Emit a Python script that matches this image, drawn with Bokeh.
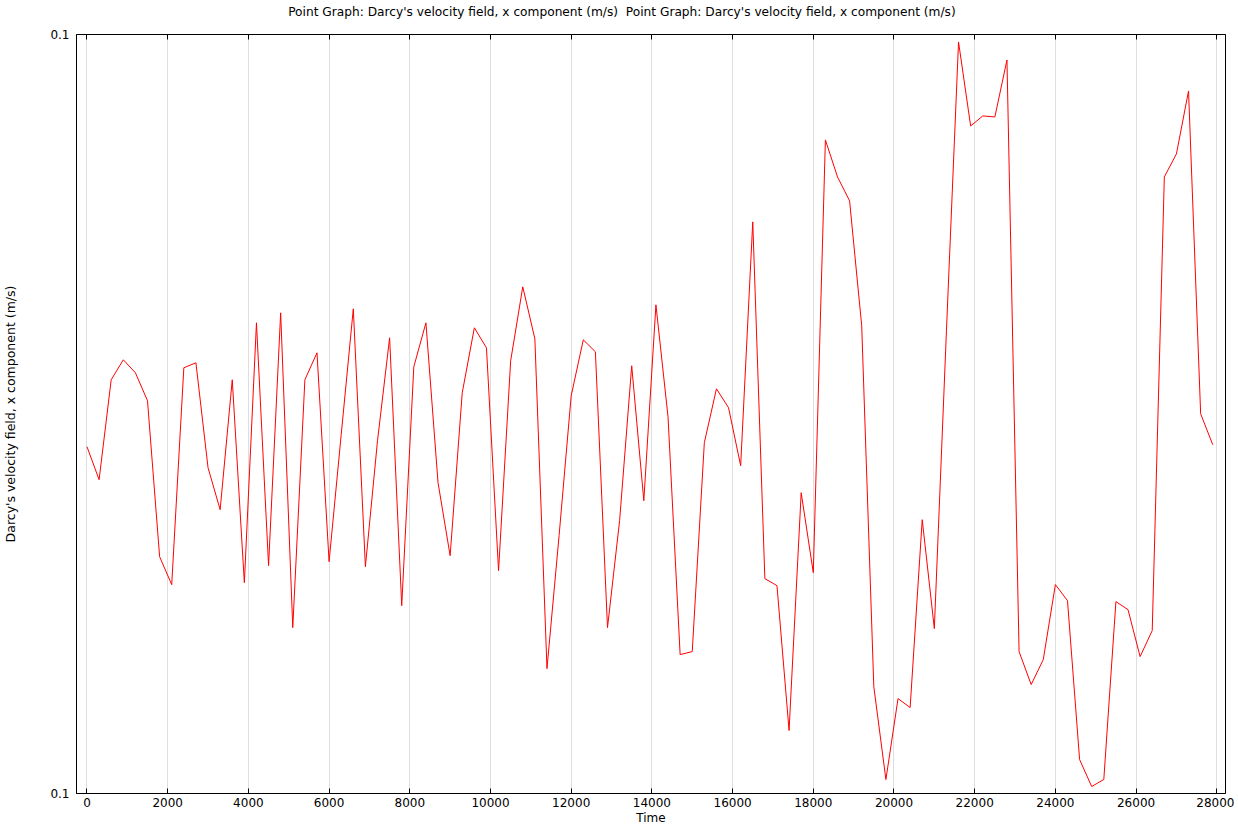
from bokeh.plotting import figure
from bokeh.models import Range1d, LinearAxis, FixedTicker, PrintfTickFormatter
from bokeh.embed import file_html
from bokeh.resources import INLINE

time_s = [0, 300, 600, 900, 1200, 1500, 1800, 2100, 2400, 2700, 3000, 3300, 3600, 3900,
          4200, 4500, 4800, 5100, 5400, 5700, 6000, 6300, 6600, 6900, 7200, 7500, 7800,
          8100, 8400, 8700, 9000, 9300, 9600, 9900, 10200, 10500, 10800, 11100, 11400,
          11700, 12000, 12300, 12600, 12900, 13200, 13500, 13800, 14100, 14400, 14700,
          15000, 15300, 15600, 15900, 16200, 16500, 16800, 17100, 17400, 17700, 18000,
          18300, 18600, 18900, 19200, 19500, 19800, 20100, 20400, 20700, 21000, 21300,
          21600, 21900, 22200, 22500, 22800, 23100, 23400, 23700, 24000, 24300, 24600,
          24900, 25200, 25500, 25800, 26100, 26400, 26700, 27000, 27300, 27600, 27900]

u_x = [0.09999947, 0.09999914, 0.10000014, 0.10000034, 0.10000021, 0.09999993,
       0.09999837, 0.09999809, 0.10000026, 0.10000031, 0.09999926, 0.09999884,
       0.10000014, 0.09999811, 0.10000071, 0.09999828, 0.10000081, 0.09999766,
       0.10000014, 0.10000041, 0.09999832, 0.09999959, 0.10000085, 0.09999827,
       0.09999953, 0.10000056, 0.09999788, 0.10000027, 0.10000071, 0.09999911,
       0.09999838, 0.10000001, 0.10000066, 0.10000046, 0.09999823, 0.10000033,
       0.10000107, 0.10000055, 0.09999725, 0.09999858, 0.09999998, 0.10000054,
       0.10000042, 0.09999766, 0.09999873, 0.10000028, 0.09999893, 0.10000089,
       0.09999977, 0.09999739, 0.09999742, 0.09999951, 0.10000005, 0.09999986,
       0.09999928, 0.10000172, 0.09999815, 0.09999808, 0.09999663, 0.09999901,
       0.09999821, 0.10000254, 0.10000217, 0.10000193, 0.10000068, 0.09999707,
       0.09999614, 0.09999695, 0.09999686, 0.09999874, 0.09999765, 0.10000063,
       0.10000352, 0.10000268, 0.10000278, 0.10000277, 0.10000334, 0.09999742,
       0.09999709, 0.09999734, 0.09999809, 0.09999793, 0.09999634, 0.09999607,
       0.09999614, 0.09999792, 0.09999784, 0.09999737, 0.09999763, 0.10000217,
       0.10000240, 0.10000303, 0.09999980, 0.09999949]

y_lo = 0.099996
y_hi = 0.100003595
x_ticks = list(range(0, 28001, 2000))

title_text = ("Point Graph: Darcy's velocity field, x component (m/s)\u00a0\u00a0"
              "Point Graph: Darcy's velocity field, x component (m/s)")
# trailing no-break spaces shift the centred heading left, as in the original
title_pad = "\u00a0" * 15

FONT = "DejaVu Sans"

p = figure(width=1233, height=825, output_backend="svg", toolbar_location=None,
           x_range=Range1d(-260, 28216), y_range=Range1d(y_lo, y_hi),
           frame_width=1149, frame_height=759,
           min_border_left=75, min_border_right=9, min_border_top=34, min_border_bottom=32)

p.line(time_s, u_x, line_color="red", line_width=1)

p.outline_line_color = "black"
p.outline_line_width = 1
p.background_fill_color = "white"
p.border_fill_color = "white"

# x axis
xa = p.xaxis[0]
xa.ticker = FixedTicker(ticks=x_ticks)
xa.axis_label = "Time"
xa.axis_label_text_font = FONT
xa.axis_label_text_font_size = "12px"
xa.axis_label_text_font_style = "normal"
xa.axis_label_text_color = "black"
xa.axis_label_standoff = 1
xa.major_label_text_font = FONT
xa.major_label_text_font_size = "12px"
xa.major_label_text_color = "black"
xa.major_label_standoff = 4
xa.major_tick_in = 5
xa.major_tick_out = 0
xa.minor_tick_in = 0
xa.minor_tick_out = 0
xa.axis_line_color = "black"
xa.major_tick_line_color = "black"

# y axis
ya = p.yaxis[0]
ya.ticker = FixedTicker(ticks=[y_lo, y_hi])
ya.formatter = PrintfTickFormatter(format="%.1f")
ya.axis_label = "Darcy's velocity field, x component (m/s)"
ya.axis_label_text_font = FONT
ya.axis_label_text_font_size = "12.5px"
ya.axis_label_text_font_style = "normal"
ya.axis_label_text_color = "black"
ya.axis_label_standoff = 29
ya.major_label_text_font = FONT
ya.major_label_text_font_size = "12px"
ya.major_label_text_color = "black"
ya.major_label_standoff = 7
ya.major_tick_in = 0
ya.major_tick_out = 0
ya.minor_tick_in = 0
ya.minor_tick_out = 0
ya.axis_line_color = "black"

# top axis with inward ticks; its axis label carries the heading
top = LinearAxis(ticker=FixedTicker(ticks=x_ticks), major_label_text_font_size="0px",
                 major_tick_in=5, major_tick_out=0, minor_tick_in=0, minor_tick_out=0,
                 major_label_standoff=0,
                 axis_line_color="black", major_tick_line_color="black",
                 axis_label=title_text + title_pad,
                 axis_label_text_font=FONT, axis_label_text_font_size="12.2px",
                 axis_label_text_font_style="normal", axis_label_text_color="black",
                 axis_label_standoff=16)
top.major_label_text_alpha = 0
p.add_layout(top, "above")

p.xgrid.ticker = FixedTicker(ticks=x_ticks)
p.xgrid.grid_line_color = "#dedede"
p.xgrid.grid_line_width = 1
p.ygrid.grid_line_color = None

open("out.html", "w").write(file_html(p, INLINE))
